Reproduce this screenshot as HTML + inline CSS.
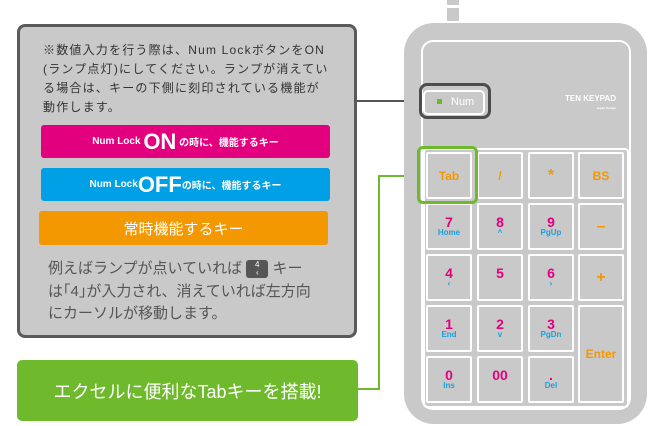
<!DOCTYPE html>
<html><head><meta charset="utf-8"><style>
*{margin:0;padding:0;box-sizing:border-box}
body{width:670px;height:426px;background:#fff;position:relative;overflow:hidden;font-family:"Liberation Sans","Noto Sans CJK JP",sans-serif}
.a{position:absolute}
.box{left:17px;top:24px;width:340px;height:314px;background:#c9c9ca;border:3px solid #5a5a5a;border-radius:8px}
.t1{left:43px;font-size:12px;color:#333;line-height:19px;top:41px;width:310px;letter-spacing:1.2px;white-space:nowrap}
.bar{left:41px;width:289px;height:33px;border-radius:3px;color:#fff;font-weight:bold;text-align:center;display:flex;align-items:center;justify-content:center}
.t2{left:48px;top:258px;font-size:15px;color:#555;line-height:22.5px;white-space:nowrap}
.k4{display:inline-block;width:22px;height:18px;background:#555;border-radius:3px;color:#fff;font-size:8px;line-height:8px;text-align:center;vertical-align:middle;padding-top:1px}
.banner{left:17px;top:360px;width:341px;height:61px;background:#6fb92c;border-radius:5px;color:#fff;font-size:18px;display:flex;align-items:center;justify-content:center}
.body{left:404px;top:23px;width:243px;height:401px;background:#c9c9ca;border-radius:30px}
.key{position:absolute;width:46px;height:47px;border:2px solid #fff;border-radius:2px;text-align:center;font-weight:bold;font-size:12px;display:flex;flex-direction:column;align-items:center;justify-content:center;line-height:12px}
.p{color:#e2007f;font-size:14px}.b{color:#1aa0e0;font-size:8px;line-height:9px}.o{color:#f39800}
</style></head><body>
<div class="a" style="left:447px;top:0;width:12px;height:5px;background:#c9c9ca"></div>
<div class="a" style="left:447px;top:8px;width:12px;height:13px;background:#c9c9ca"></div>
<div class="a box"></div>
<div class="a t1">※数値入力を行う際は、Num LockボタンをON<br>(ランプ点灯)にしてください。ランプが消えてい<br>る場合は、キーの下側に刻印されている機能が<br>動作します。</div>
<div class="a bar" style="top:125px;background:#e2007f;font-size:10px">Num Lock&nbsp;<span style="font-size:22px">ON</span>&nbsp;の時に、機能するキー</div>
<div class="a bar" style="top:168px;background:#00a0e6;font-size:10px">Num Lock<span style="font-size:22px">OFF</span>の時に、機能するキー</div>
<div class="a bar" style="top:211px;left:39px;height:34px;background:#f39800;font-size:15px;font-weight:normal">常時機能するキー</div>
<div class="a t2">例えばランプが点いていれば <span class="k4">4<br>‹</span> キー<br>は｢4｣が入力され、消えていれば左方向<br>にカーソルが移動します。</div>
<div class="a banner">エクセルに便利なTabキーを搭載!</div>
<div class="a" style="left:357px;top:100px;width:62px;height:2px;background:#555"></div>
<div class="a" style="left:378px;top:175px;width:40px;height:2px;background:#6fb92c"></div>
<div class="a" style="left:378px;top:175px;width:2px;height:215px;background:#6fb92c"></div>
<div class="a" style="left:358px;top:388px;width:22px;height:2px;background:#6fb92c"></div>
<div class="a body"></div>
<div class="a" style="left:421px;top:40px;width:210px;height:370px;border:2px solid #fff;border-radius:12px"></div>
<div class="a" style="left:423px;top:148px;width:206px;height:260px;border:2px solid #fff;border-radius:4px"></div>
<div class="a" style="left:419px;top:83px;width:72px;height:36px;border:3px solid #4d4d4d;border-radius:8px"></div>
<div class="a" style="left:423px;top:90px;width:62px;height:25px;border:2px solid #fff;border-radius:5px;color:#fff;font-size:11px;line-height:21px;padding-left:26px">Num</div>
<div class="a" style="left:437px;top:99px;width:5px;height:5px;background:#6fb92c"></div>
<div class="a" style="left:565px;top:95px;color:#fff;font-weight:bold;font-size:8px;line-height:8px;text-align:right">TEN KEYPAD<br><span style="font-size:3px">Japan Design</span></div>
<div class="key o" style="left:426px;top:152px">Tab</div>
<div class="key o" style="left:477px;top:152px">/</div>
<div class="key o" style="left:528px;top:152px;font-size:16px">*</div>
<div class="key o" style="left:578px;top:152px">BS</div>
<div class="key" style="left:426px;top:203px"><span class="p">7</span><span class="b">Home</span></div>
<div class="key" style="left:477px;top:203px"><span class="p">8</span><span class="b">^</span></div>
<div class="key" style="left:528px;top:203px"><span class="p">9</span><span class="b">PgUp</span></div>
<div class="key o" style="left:578px;top:203px;font-size:16px">–</div>
<div class="key" style="left:426px;top:254px"><span class="p">4</span><span class="b">‹</span></div>
<div class="key" style="left:477px;top:254px"><span class="p">5</span><span class="b">&nbsp;</span></div>
<div class="key" style="left:528px;top:254px"><span class="p">6</span><span class="b">›</span></div>
<div class="key o" style="left:578px;top:254px;font-size:16px">+</div>
<div class="key" style="left:426px;top:305px"><span class="p">1</span><span class="b">End</span></div>
<div class="key" style="left:477px;top:305px"><span class="p">2</span><span class="b">v</span></div>
<div class="key" style="left:528px;top:305px"><span class="p">3</span><span class="b">PgDn</span></div>
<div class="key o" style="left:578px;top:305px;height:98px">Enter</div>
<div class="key" style="left:426px;top:356px"><span class="p">0</span><span class="b">Ins</span></div>
<div class="key" style="left:477px;top:356px"><span class="p">00</span><span class="b">&nbsp;</span></div>
<div class="key" style="left:528px;top:356px"><span class="p">.</span><span class="b">Del</span></div>
<div class="a" style="left:417px;top:146px;width:61px;height:58px;border:3px solid #6fb92c;border-radius:6px"></div>
</body></html>
